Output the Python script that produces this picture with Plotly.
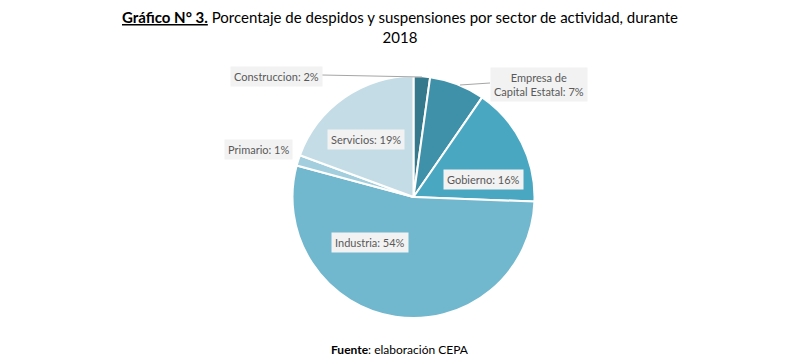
import plotly.graph_objects as go

# ---- data ----
sectors = ["Construccion", "Empresa de<br>Capital Estatal", "Gobierno", "Industria", "Primario", "Servicios"]
values = [2.2, 7.4, 16.0, 53.6, 1.4, 19.4]
colors = ["#34798c", "#3e91a9", "#4aa7c1", "#71b7ce", "#a2cedd", "#c3dce5"]

W, H = 800, 363
FONT = "Lato"

fig = go.Figure()
fig.add_trace(go.Pie(
    labels=sectors, values=values, sort=False, direction="clockwise", rotation=0,
    marker=dict(colors=colors, line=dict(color="white", width=2)),
    textinfo="none", hoverinfo="label+percent", showlegend=False,
    domain=dict(x=[292 / W, 535 / W], y=[1 - 318 / H, 1 - 76 / H]),
))

def px(x, y):
    return x / W, 1 - y / H

total = sum(values)
pct = [round(v / total * 100) for v in values]
label_pos = [(276, 76), (539, 84), (483, 179), (370, 242), (258, 150), (366, 139)]
anns = []
for name, p, (x, y) in zip(sectors, pct, label_pos):
    xx, yy = px(x, y)
    anns.append(dict(x=xx, y=yy, xref="paper", yref="paper", showarrow=False,
                     xanchor="center", yanchor="middle",
                     text=f"{name}: {p}%", bgcolor="#f2f2f2", borderpad=3,
                     font=dict(family=FONT, size=11, color="#595959")))

# title & source
tx, ty = px(400, 27)
anns.append(dict(x=tx, y=ty, xref="paper", yref="paper", showarrow=False,
                 xanchor="center", yanchor="middle",
                 text="<b><u>Gráfico N° 3.</u></b> Porcentaje de despidos y suspensiones por sector de actividad, durante<br>2018",
                 font=dict(family=FONT, size=15, color="black"), align="center"))
sx, sy = px(400, 349)
anns.append(dict(x=sx, y=sy, xref="paper", yref="paper", showarrow=False,
                 xanchor="center", yanchor="middle",
                 text="<b>Fuente</b>: elaboración CEPA",
                 font=dict(family=FONT, size=12, color="black")))

shapes = []
for (x0, y0, x1, y1) in [(322, 75, 422, 77), (490, 83, 460, 85)]:
    a, b = px(x0, y0)
    c, d = px(x1, y1)
    shapes.append(dict(type="line", xref="paper", yref="paper", x0=a, y0=b, x1=c, y1=d,
                       line=dict(color="#a6a6a6", width=1)))

fig.update_layout(width=W, height=H, margin=dict(l=0, r=0, t=0, b=0),
                  paper_bgcolor="white", plot_bgcolor="white",
                  annotations=anns, shapes=shapes)
fig.write_html("out.html", config={"displayModeBar": False},
               post_script="document.body.style.margin='0';document.body.style.overflow='hidden';")
